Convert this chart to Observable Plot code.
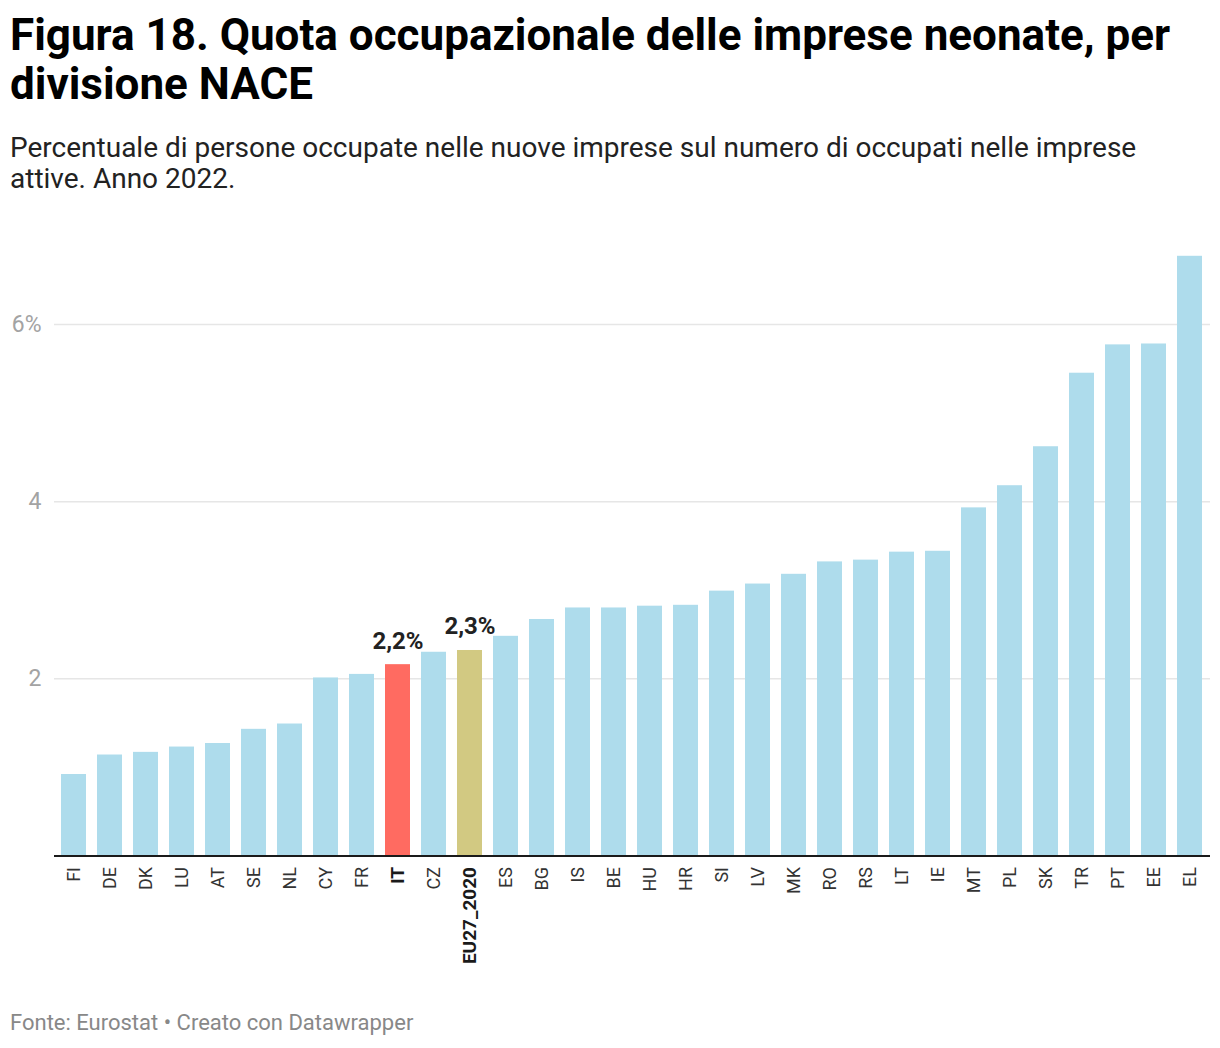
<!DOCTYPE html>
<html>
<head>
<meta charset="utf-8">
<script src="https://cdn.jsdelivr.net/npm/d3@7"></script>
<script src="https://cdn.jsdelivr.net/npm/@observablehq/plot@0.6"></script>
<style>
  html, body { margin: 0; padding: 0; background: #fff; }
  body { width: 1220px; height: 1048px; position: relative; font-family: Roboto, sans-serif; overflow: hidden; }
  .title { position: absolute; left: 10px; top: 10.5px; font-size: 44px; line-height: 49px; font-weight: 700; color: #000; white-space: nowrap; }
  .subtitle { position: absolute; left: 10px; top: 132px; font-size: 28px; line-height: 31px; color: #222; white-space: nowrap; }
  .footer { position: absolute; left: 10px; top: 1011px; font-size: 22px; line-height: 24px; color: #888; }
  #chart { position: absolute; left: 0; top: 220px; }
</style>
</head>
<body>
<div class="title">Figura 18. Quota occupazionale delle imprese neonate, per<br>divisione NACE</div>
<div class="subtitle">Percentuale di persone occupate nelle nuove imprese sul numero di occupati nelle imprese<br>attive. Anno 2022.</div>
<div id="chart"></div>
<div class="footer">Fonte: Eurostat • Creato con Datawrapper</div>
<script>
const countries = ["FI","DE","DK","LU","AT","SE","NL","CY","FR","IT","CZ","EU27_2020","ES","BG","IS","BE","HU","HR","SI","LV","MK","RO","RS","LT","IE","MT","PL","SK","TR","PT","EE","EL"];
const values = [0.92,1.14,1.17,1.23,1.27,1.43,1.49,2.01,2.05,2.16,2.30,2.32,2.48,2.67,2.80,2.80,2.82,2.83,2.99,3.07,3.18,3.32,3.34,3.43,3.44,3.93,4.18,4.62,5.45,5.77,5.78,6.77];
const highlighted = ["IT","EU27_2020"];
const highlightColors = {"IT": "#ff6b61", "EU27_2020": "#d2c982"};
const baseColor = "#aedcec";
const yTicks = [2, 4, 6];

const data = countries.map((c, i) => ({country: c, value: values[i]}));
const labeled = data.filter(d => highlighted.includes(d.country));
const normalLabels = data.filter(d => !highlighted.includes(d.country));

const chart = Plot.plot({
  width: 1220,
  height: 760,
  marginLeft: 54,
  marginRight: 10,
  marginTop: 0,
  marginBottom: 124,
  style: {fontFamily: "Roboto, sans-serif", background: "#fff"},
  x: {type: "band", domain: countries, range: [54, 1210], paddingInner: 0.3, paddingOuter: 0.12, axis: null},
  y: {domain: [0, 6], range: [635.5, 104], axis: null},
  marks: [
    Plot.ruleY(yTicks, {stroke: "#e6e6e6", strokeWidth: 1.5}),
    Plot.axisY({ticks: yTicks, tickSize: 0, tickPadding: 13, fontSize: 23, color: "#a3a3a3",
      tickFormat: d => d === 6 ? "6%" : String(d), label: null}),
    Plot.barY(data, {x: "country", y: "value", fill: d => highlightColors[d.country] || baseColor}),
    Plot.ruleY([0], {stroke: "#1a1a1a", strokeWidth: 2}),
    Plot.text(normalLabels, {x: "country", y: () => 0, text: "country", rotate: -90, textAnchor: "end",
      dy: 11, fontSize: 18, fill: "#333"}),
    Plot.text(labeled, {x: "country", y: () => 0, text: "country", rotate: -90, textAnchor: "end",
      dy: 11, fontSize: 19, fontWeight: "bold", fill: "#1a1a1a"}),
    Plot.text(labeled, {x: "country", y: "value", text: d => d3.format(".1f")(d.value).replace(".", ",") + "%",
      dy: -16, lineAnchor: "bottom", fontSize: 24, fontWeight: "bold", fill: "#222"})
  ]
});
document.getElementById("chart").appendChild(chart);
</script>
</body>
</html>
